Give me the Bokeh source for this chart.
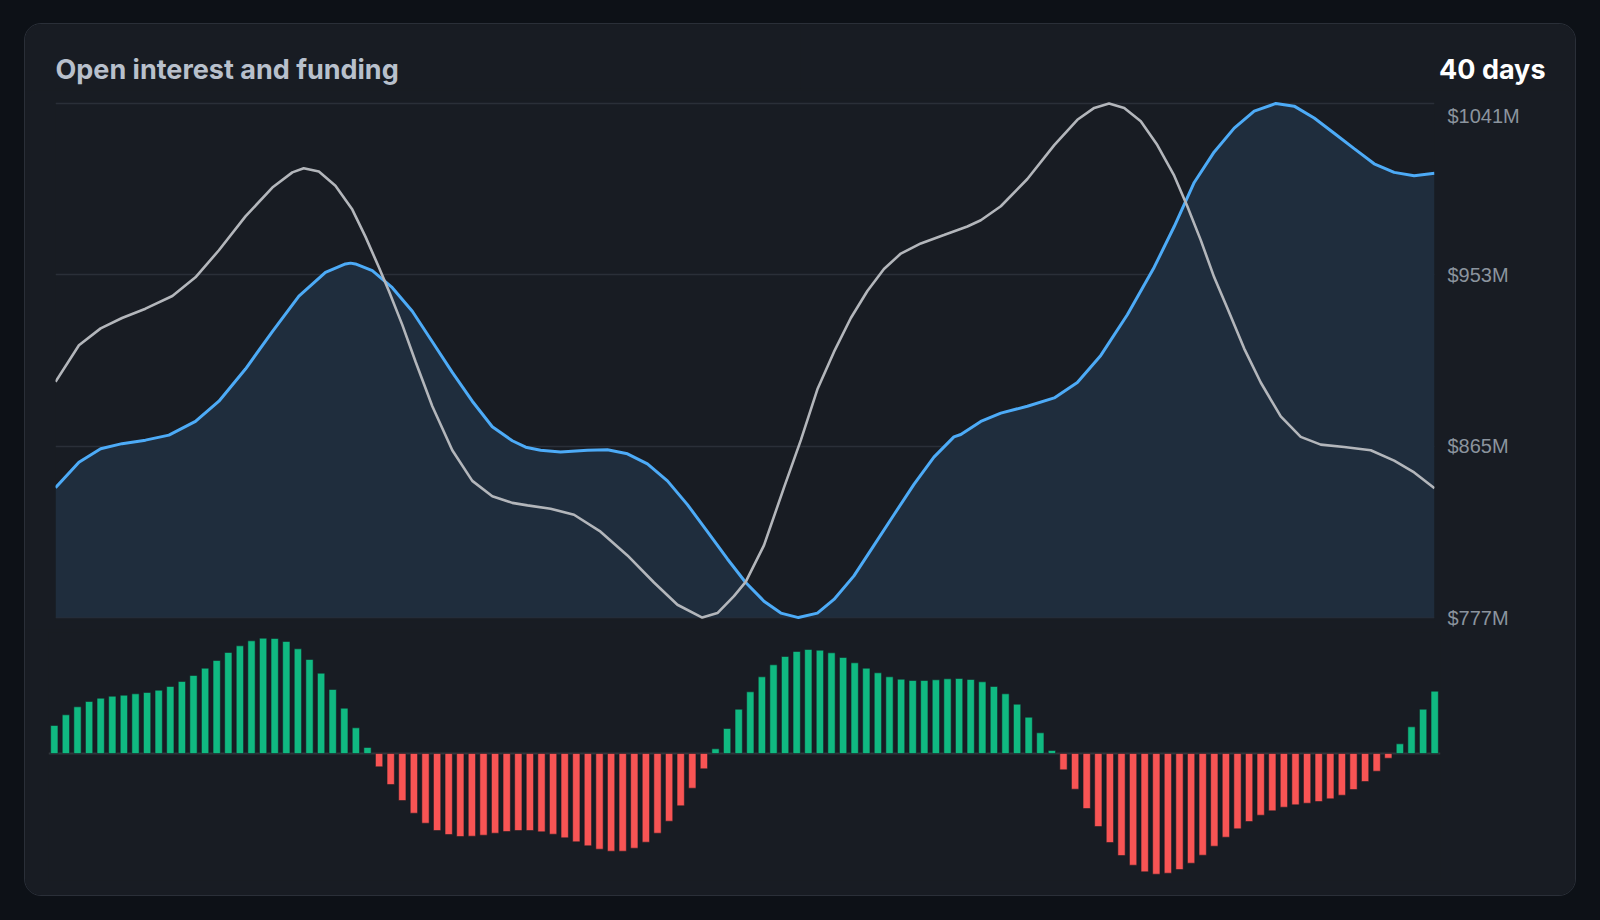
from bokeh.plotting import figure
from bokeh.layouts import column, row
from bokeh.models import Range1d, Span, Title, PrintfTickFormatter, GlobalInlineStyleSheet
from bokeh.embed import file_html
from bokeh.resources import INLINE

# data ($M, days 0..40)
title_text = "Open interest and funding"
period_text = "40 days"
y_ticks = [777, 865, 953, 1041]

oi_days = [0, 0.68, 1.31, 1.93, 2.61, 3.29, 4.06, 4.74, 5.51, 6.29, 7.06, 7.83, 8.41, 8.56, 8.7,
           9.19, 9.77, 10.35, 10.93, 11.51, 12.09, 12.67, 13.25, 13.64, 14.07, 14.65, 15.43,
           16.01, 16.59, 17.17, 17.75, 18.33, 18.91, 19.49, 20.02, 20.55, 21.04, 21.55, 22.1,
           22.58, 23.16, 23.74, 24.32, 24.9, 25.48, 26.06, 26.26, 26.84, 27.42, 28.19, 28.97,
           29.64, 30.32, 31.09, 31.87, 32.45, 33.03, 33.61, 34.19, 34.77, 35.4, 35.93, 36.51,
           37.09, 37.67, 38.25, 38.83, 39.41, 40]
open_interest = [843.7, 856.8, 863.7, 866.3, 868.1, 870.7, 877.7, 888.1, 904.6, 923.8, 942.1,
                 954.3, 958.6, 959, 958.6, 955.1, 946.4, 934.3, 918.6, 902.9, 888.1, 875, 867.8,
                 864.5, 862.9, 862, 862.9, 863.2, 861.1, 855.9, 847.2, 835, 821.1, 807.1, 795,
                 785.4, 779.3, 777, 779.3, 786.3, 798.4, 814.1, 829.8, 845.4, 859.4, 869.8, 871,
                 877.7, 882, 885.5, 889.8, 897.7, 911.6, 932.5, 956.9, 977.8, 1000.4, 1016.1,
                 1028.3, 1037, 1041, 1039.6, 1033.5, 1025.7, 1017.8, 1010, 1005.6, 1003.9, 1005.1]

cmp_days = [0, 0.68, 1.31, 1.93, 2.61, 3.39, 4.06, 4.74, 5.51, 6.29, 6.87, 7.2, 7.64, 8.12, 8.61,
            8.99, 9.38, 9.67, 10.06, 10.45, 10.93, 11.51, 12.09, 12.67, 13.25, 13.69, 14.36,
            15.04, 15.81, 16.59, 17.36, 18.04, 18.76, 19.2, 19.68, 20.02, 20.55, 21.13, 21.62,
            22.1, 22.58, 23.07, 23.55, 24.03, 24.52, 25.1, 25.77, 26.45, 26.84, 27.42, 28.19,
            28.97, 29.64, 30.13, 30.56, 31.0, 31.48, 31.96, 32.45, 32.83, 33.22, 33.61, 33.99,
            34.48, 34.96, 35.54, 36.12, 36.7, 37.38, 38.15, 38.83, 39.41, 40]
comparison = [898, 916.8, 925.5, 930.8, 935.6, 942.1, 951.7, 965.6, 983, 997.8, 1005.6, 1007.7,
              1006, 998.7, 986.5, 972.6, 956.9, 944.7, 927.3, 908.1, 885.5, 862.9, 847.2, 839.3,
              835.9, 834.6, 832.9, 829.8, 821.1, 808.9, 795, 783.6, 777, 779.3, 788, 795.3,
              814.1, 843.7, 868.1, 894.2, 913.4, 930.8, 944.7, 956, 963.9, 969.1, 973.4, 977.8,
              981, 988.2, 1002.2, 1019.6, 1032.6, 1038.7, 1041, 1038.7, 1031.8, 1019.6, 1003.9,
              988.2, 970.8, 951.7, 936, 915.1, 897.7, 880.3, 869.8, 865.8, 864.6, 862.9, 857.6,
              851.5, 843.4]

# funding, 120 periods (3 per day)
funding = [2.8, 3.87, 4.67, 5.2, 5.53, 5.73, 5.83, 5.97, 6.1, 6.33, 6.7, 7.2, 7.8, 8.53, 9.3,
           10.1, 10.77, 11.27, 11.53, 11.5, 11.2, 10.47, 9.4, 8.03, 6.4, 4.53, 2.57, 0.6,
           -1.33, -3.1, -4.7, -5.97, -6.97, -7.7, -8.1, -8.3, -8.27, -8.17, -7.97, -7.8, -7.7,
           -7.7, -7.83, -8.07, -8.43, -8.83, -9.23, -9.57, -9.77, -9.77, -9.47, -8.87, -7.97,
           -6.77, -5.23, -3.47, -1.53,
           0.47, 2.5, 4.43, 6.17, 7.67, 8.87, 9.7, 10.2, 10.4, 10.33, 10.07, 9.6, 9.07, 8.53,
           8.07, 7.67, 7.43, 7.3, 7.3, 7.37, 7.47, 7.5, 7.4, 7.17, 6.7, 5.97, 4.93, 3.63, 2.07,
           0.3,
           -1.63, -3.57, -5.5, -7.3, -8.9, -10.2, -11.17, -11.83, -12.07, -11.97, -11.6, -10.97,
           -10.17, -9.27, -8.37, -7.53, -6.8, -6.17, -5.73, -5.37, -5.13, -4.97, -4.8, -4.53,
           -4.17, -3.6, -2.8, -1.77, -0.47,
           0.97, 2.67, 4.43, 6.23]

CARD = "#181c23"
GRID = "#2a2f38"
BLUE = "#4dabf7"
GREY = "#b3b6bb"
GREEN = "#10b981"
RED = "#f85454"


def style(fig):
    fig.background_fill_color = CARD
    fig.border_fill_color = CARD
    fig.outline_line_color = None


# --- header: title on the left, period on the right ---
def header(text, align, color, left, right):
    h = figure(width=775, height=66, title=None, toolbar_location=None, output_backend="svg",
               x_axis_location=None, y_axis_location=None,
               min_border_left=left, min_border_right=right, min_border_top=64,
               min_border_bottom=0)
    style(h)
    h.grid.visible = False
    h.add_layout(Title(text=text, align=align, text_font="Inter", text_font_size="27px",
                       text_font_style="bold", text_color=color, standoff=6), "above")
    return h


head_left = header(title_text, "left", "#b8c0cc", 30, 0)
head_right = header(period_text, "right", "#ffffff", 0, 30)

# --- top chart: open interest lines ---
p = figure(width=1550, height=539, x_range=Range1d(0, 40), y_range=Range1d(775.5, 1042.5),
           x_axis_location=None, y_axis_location="right", title=None,
           toolbar_location=None, output_backend="svg",
           min_border_left=30, min_border_right=141, min_border_top=10, min_border_bottom=9)
style(p)

p.yaxis.ticker = y_ticks
p.yaxis.formatter = PrintfTickFormatter(format="$%dM")
# top label sits just under its gridline, as in the original
p.yaxis.major_label_overrides = {y_ticks[-1]: "\n$%dM" % y_ticks[-1]}
p.yaxis.major_label_text_line_height = 0.66
p.yaxis.axis_line_color = None
p.yaxis.major_tick_line_color = None
p.yaxis.minor_tick_line_color = None
p.yaxis.major_label_standoff = 7
p.yaxis.major_label_text_font = "Liberation Sans"
p.yaxis.major_label_text_font_size = "20px"
p.yaxis.major_label_text_color = "#8b949e"
p.xgrid.visible = False
p.ygrid.grid_line_color = GRID
p.ygrid.grid_line_width = 1.6

p.varea(x=oi_days, y1=y_ticks[0], y2=open_interest, fill_color="#1f2d3d")
p.line(oi_days, open_interest, line_color=BLUE, line_width=3)
p.line(cmp_days, comparison, line_color=GREY, line_width=2.6)

# --- bottom chart: funding bars ---
q = figure(width=1550, height=266, x_range=Range1d(-0.5, 119.5), y_range=Range1d(-12.7, 12.1),
           x_axis_location=None, y_axis_location=None, title=None,
           toolbar_location=None, output_backend="svg",
           min_border_left=23, min_border_right=135, min_border_top=3, min_border_bottom=15)
style(q)
q.grid.visible = False

q.add_layout(Span(location=0, dimension="width", line_color="#30363d", line_width=2,
                  level="underlay"))
bar_colors = [GREEN if v >= 0 else RED for v in funding]
q.vbar(x=list(range(len(funding))), top=funding, bottom=0, width=0.63,
       fill_color=bar_colors, line_color=CARD, line_alpha=0.55, line_width=1)

page = column(row(head_left, head_right), p, row(q), margin=(24, 0, 0, 25),
              styles={"background-color": CARD, "border-radius": "16px",
                      "overflow": "hidden", "outline": "1.5px solid #2a2f38"},
              stylesheets=[GlobalInlineStyleSheet(css="body { background: #0d1117; }")])

open("out.html", "w").write(file_html(page, INLINE))
